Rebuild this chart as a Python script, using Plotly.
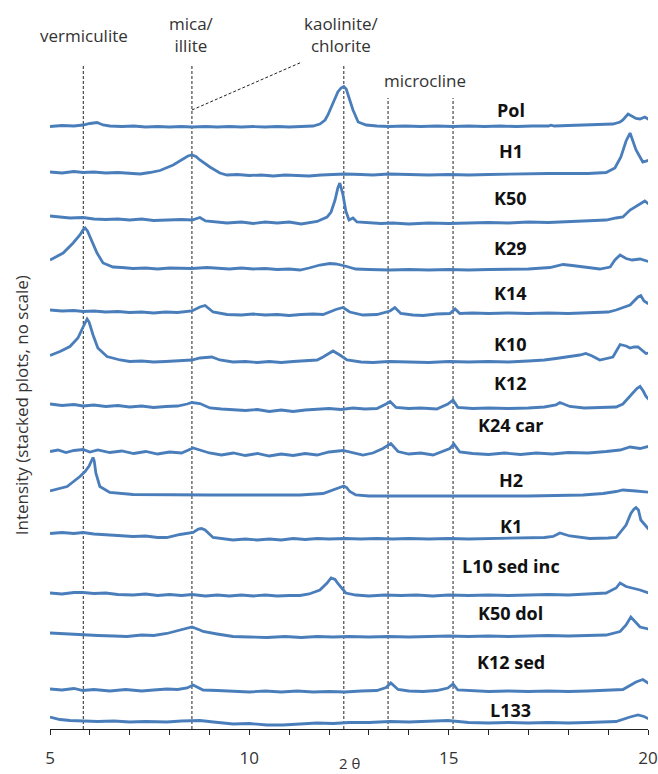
import plotly.graph_objects as go

# ---- data: 2-theta positions and stacked intensities (arbitrary units) ----
pol_x = [5.0, 5.3, 5.6, 5.83, 6.0, 6.18, 6.33, 6.5, 6.8, 7.1, 7.4, 7.7, 8.0, 8.3, 8.56, 8.9, 9.2, 9.5, 9.8, 10.1, 10.4, 10.7, 11.0, 11.3, 11.6, 11.77, 11.9, 11.97, 12.1, 12.22, 12.3, 12.37, 12.43, 12.52, 12.6, 12.73, 12.93, 13.2, 13.5, 13.9, 14.3, 14.7, 15.1, 15.5, 15.9, 16.3, 16.7, 17.1, 17.5, 17.57, 17.65, 18.0, 18.54, 18.8, 19.12, 19.3, 19.37, 19.5, 19.62, 19.7, 19.8, 19.92, 20.0, 20.12]
pol_y = [602.5, 603.5, 603, 604, 605.5, 606.5, 604, 603, 602.5, 603, 602, 602.5, 602, 602.5, 602, 602.5, 602, 602.5, 602, 602.5, 602, 602.5, 602, 602.5, 603, 605, 609, 614, 626, 637, 641, 642.5, 640, 628, 619, 607, 604, 603, 602.5, 603, 602.5, 603, 602.5, 603, 602.5, 603, 602.5, 603, 603, 603.8, 603, 603.5, 604, 604.5, 605, 607, 609, 615, 612, 610.5, 610, 612, 610, 608]

h1_x = [5.0, 5.3, 5.6, 5.83, 6.1, 6.4, 6.7, 7.0, 7.26, 7.5, 7.76, 8.09, 8.34, 8.46, 8.56, 8.66, 8.76, 9.01, 9.26, 9.44, 9.7, 10.0, 10.3, 10.6, 10.9, 11.2, 11.5, 11.8, 12.1, 12.4, 12.8, 13.1, 13.5, 14.0, 14.5, 15.0, 15.5, 16.0, 16.5, 17.0, 17.5, 18.0, 18.5, 18.95, 19.17, 19.32, 19.45, 19.55, 19.62, 19.7, 19.87, 20.0, 20.12]
h1_y = [557, 556, 557.5, 556.5, 557, 556, 556.5, 556, 555, 556.5, 558.5, 564, 570, 573, 574, 572.5, 569, 562, 556, 554, 554.5, 553.5, 554, 553, 554, 553.5, 553, 554, 554.5, 555, 554.5, 554, 555, 554.5, 554, 554.5, 554, 554.5, 555, 555, 555.5, 555.5, 555.5, 556.5, 561, 572, 588, 596, 588, 579, 567, 569, 570]

k50_x = [5.0, 5.2, 5.5, 5.83, 6.1, 6.4, 6.7, 7.0, 7.3, 7.6, 8.0, 8.3, 8.56, 8.76, 8.9, 9.1, 9.44, 9.8, 10.1, 10.4, 10.7, 11.0, 11.3, 11.7, 11.85, 11.95, 12.05, 12.15, 12.22, 12.27, 12.35, 12.42, 12.5, 12.6, 12.7, 12.85, 13.0, 13.3, 13.6, 14.0, 14.5, 15.0, 15.5, 16.0, 16.5, 17.0, 17.5, 18.0, 18.5, 18.95, 19.2, 19.37, 19.55, 19.75, 19.92, 20.05, 20.12]
k50_y = [513, 512, 511, 511.5, 510, 509.5, 510, 509, 510, 508.5, 509, 509.5, 509, 511.5, 508, 507, 506, 507, 505.5, 507, 506, 507, 505, 507.5, 510.5, 512, 517, 529, 541, 546, 534, 518, 509, 511, 507, 506.5, 506, 505.5, 506, 505, 506, 505.5, 506, 506.5, 506, 507, 506.5, 507.5, 508, 509, 511, 512, 519, 524, 528, 524, 522]

k29_x = [5.0, 5.33, 5.58, 5.75, 5.83, 5.88, 5.94, 6.0, 6.18, 6.33, 6.58, 6.8, 7.08, 7.4, 7.7, 8.0, 8.3, 8.56, 8.94, 9.2, 9.5, 9.8, 10.1, 10.4, 10.7, 11.0, 11.27, 11.5, 11.77, 12.02, 12.17, 12.4, 12.67, 13.0, 13.53, 14.0, 14.5, 15.0, 15.5, 16.0, 16.5, 17.0, 17.54, 17.87, 18.1, 18.44, 18.79, 19.05, 19.17, 19.3, 19.45, 19.6, 19.8, 20.05]
k29_y = [469, 476, 486, 494, 499, 501, 498, 492, 476, 466, 462, 461.5, 460.5, 461, 460, 461, 460.5, 460.5, 461.5, 460.5, 460, 461, 460, 460.5, 459.5, 460, 459, 461, 464, 465.5, 465, 463, 460, 459.5, 459, 459.5, 459, 459.5, 459, 459.5, 460, 460, 461.5, 464.5, 463.5, 462, 460, 462, 469, 474, 470.5, 469, 470, 467]

k14_x = [5.0, 5.3, 5.6, 5.83, 6.1, 6.4, 6.7, 7.0, 7.3, 7.6, 7.9, 8.2, 8.56, 8.76, 8.89, 9.09, 9.44, 9.8, 10.1, 10.4, 10.7, 11.0, 11.3, 11.6, 11.85, 12.17, 12.35, 12.52, 12.85, 13.2, 13.53, 13.65, 13.8, 14.1, 14.36, 14.7, 15.03, 15.16, 15.28, 15.6, 16.0, 16.5, 17.0, 17.5, 18.0, 18.5, 19.0, 19.2, 19.55, 19.75, 19.82, 19.9, 20.0, 20.1]
k14_y = [419, 418, 418.5, 417.5, 418, 417, 417.5, 416.5, 417, 416, 417, 416.5, 418, 422, 423.5, 417, 414.5, 414, 415, 414, 414.5, 413.5, 414.5, 415, 414.5, 419.5, 421.5, 417, 414, 414.5, 418, 421.5, 415.5, 414, 413.5, 415, 415.5, 420, 415.5, 416, 415.5, 416, 415.5, 416, 415.5, 416, 417, 419, 424, 432, 433.5, 428, 425.5, 424]

k10_x = [5.0, 5.25, 5.5, 5.7, 5.83, 5.89, 5.93, 5.98, 6.08, 6.2, 6.43, 6.76, 7.0, 7.3, 7.6, 7.9, 8.2, 8.56, 8.76, 9.06, 9.26, 9.59, 9.9, 10.2, 10.5, 10.8, 11.1, 11.4, 11.7, 11.85, 12.0, 12.1, 12.27, 12.45, 12.8, 13.1, 13.5, 14.0, 14.5, 15.0, 15.5, 16.0, 16.5, 17.0, 17.4, 17.69, 18.0, 18.29, 18.44, 18.6, 18.79, 19.12, 19.3, 19.45, 19.55, 19.65, 19.75, 19.95, 20.12]
k10_y = [373.5, 377.5, 382.5, 391, 402, 408, 410, 407, 394, 381, 372.5, 369, 367.5, 368, 367, 367.5, 368, 369, 371, 372, 369, 367, 367.5, 366.5, 367.5, 366.5, 367.5, 368, 369, 372, 376, 378, 374, 369, 367, 366.5, 367.5, 367, 366.5, 367.5, 367, 367.5, 367, 368, 369, 370.5, 372, 374, 375.5, 373, 369, 372, 384.5, 383, 381, 382, 382, 375.5, 377]

k12_x = [5.0, 5.3, 5.6, 5.83, 6.1, 6.4, 6.7, 7.0, 7.3, 7.6, 7.9, 8.2, 8.44, 8.56, 8.76, 9.01, 9.3, 9.59, 9.9, 10.2, 10.5, 10.8, 11.1, 11.4, 11.7, 12.0, 12.3, 12.6, 12.9, 13.2, 13.43, 13.53, 13.68, 14.0, 14.3, 14.7, 14.98, 15.11, 15.23, 15.6, 16.0, 16.5, 17.0, 17.4, 17.69, 17.79, 18.04, 18.4, 18.8, 19.2, 19.37, 19.62, 19.72, 19.8, 19.88, 19.95, 20.12]
k12_y = [325, 323.5, 324.5, 323, 324, 322.5, 323.5, 322, 323, 321.5, 322.5, 323, 325, 326.5, 325.5, 321, 320, 319.5, 318.5, 319.5, 317.5, 319, 317.5, 319, 320, 320.5, 319.5, 321, 320, 320.5, 325, 327.5, 321.5, 320.5, 321, 320, 325, 329, 321.5, 320.5, 321, 320.5, 321, 322, 324, 326.5, 322.5, 321, 321.5, 322, 325, 335.5, 340.5, 342.5, 338, 332.5, 325.5]

k24car_x = [5.0, 5.2, 5.4, 5.6, 5.83, 6.0, 6.2, 6.5, 6.8, 7.1, 7.4, 7.7, 8.0, 8.3, 8.59, 8.76, 9.0, 9.3, 9.6, 9.9, 10.2, 10.5, 10.8, 11.1, 11.4, 11.7, 12.0, 12.35, 12.6, 12.85, 13.1, 13.35, 13.55, 13.73, 14.0, 14.3, 14.61, 14.9, 15.03, 15.13, 15.28, 15.6, 16.0, 16.4, 16.8, 17.2, 17.6, 18.0, 18.5, 18.95, 19.3, 19.55, 19.8, 20.05, 20.12]
k24car_y = [277.5, 279, 276.5, 278.5, 279.5, 277, 279, 276.5, 278, 275.5, 277.5, 275, 277, 276, 281, 279, 276, 274, 276, 273.5, 275.5, 273, 275, 273.5, 275.5, 274, 277, 278.5, 276, 274, 276, 280.5, 285.5, 277.5, 275, 276, 274, 278, 280.5, 285, 277, 275.5, 274.5, 276, 274.5, 276, 275, 276.5, 276, 277.5, 279, 282, 280.5, 283, 282]

h2_x = [5.0, 5.43, 5.75, 5.88, 5.98, 6.05, 6.08, 6.11, 6.15, 6.25, 6.5, 7.08, 8.0, 9.0, 10.0, 11.27, 11.85, 12.1, 12.3, 12.37, 12.44, 12.52, 12.67, 13.0, 14.0, 15.0, 16.0, 17.0, 18.37, 18.87, 19.2, 19.37, 19.7, 20.12]
h2_y = [238, 242.5, 252.5, 257.5, 263, 269, 271.5, 268, 256, 242.5, 236.5, 234.5, 234, 234, 234, 234, 235.5, 239, 242.5, 243, 241.5, 237.5, 234, 233, 233, 233, 233, 233, 234, 235.5, 237.5, 239, 238, 236.5]

k1_x = [5.0, 5.3, 5.6, 5.83, 6.1, 6.4, 6.7, 7.08, 7.4, 7.7, 7.93, 8.26, 8.59, 8.72, 8.8, 8.89, 9.09, 9.59, 9.9, 10.2, 10.5, 10.8, 11.1, 11.4, 11.7, 12.0, 12.4, 12.8, 13.2, 13.6, 14.0, 14.5, 15.0, 15.5, 16.0, 16.5, 17.0, 17.4, 17.62, 17.79, 18.04, 18.3, 18.54, 19.0, 19.2, 19.45, 19.57, 19.65, 19.7, 19.76, 19.82, 20.0, 20.12]
k1_y = [195.5, 196.5, 195.5, 196.5, 195, 194.5, 193.5, 192.5, 193, 191.5, 191.5, 194.5, 196.5, 200, 200.5, 199, 191.5, 189, 190, 189, 190, 189, 190.5, 189.5, 190.5, 190, 190.5, 190, 190.5, 190, 190.5, 190, 190.5, 190, 190.5, 190.5, 191, 191.5, 192.5, 196, 193, 191.5, 190.5, 191, 191.5, 204, 215.5, 220, 221.5, 219, 209, 200.5, 203]

l10_x = [5.0, 5.3, 5.6, 5.83, 6.1, 6.4, 6.7, 7.08, 7.4, 7.7, 8.0, 8.3, 8.56, 8.9, 9.2, 9.5, 9.8, 10.1, 10.4, 10.7, 11.0, 11.27, 11.5, 11.77, 11.95, 12.05, 12.15, 12.22, 12.42, 12.67, 13.0, 13.4, 13.8, 14.2, 14.6, 15.0, 15.5, 16.0, 16.5, 17.0, 17.5, 18.0, 18.5, 18.95, 19.2, 19.3, 19.45, 19.8, 20.05, 20.12]
l10_y = [136, 135, 136.5, 136.5, 135.5, 136, 134.5, 134, 135, 133.5, 134.5, 133.5, 134.5, 133, 134, 133, 134, 133, 134, 133, 133.5, 133.5, 135, 139, 146, 151, 149.5, 145.5, 136, 134, 133, 134, 133.5, 134, 133, 134, 133.5, 134, 133.5, 134, 134.5, 134, 135, 136, 141, 146, 142.5, 139, 135.5, 136]

k50dol_x = [5.0, 5.4, 5.83, 6.2, 6.6, 6.93, 7.3, 7.6, 7.93, 8.26, 8.56, 8.76, 8.84, 9.19, 9.59, 10.0, 10.44, 10.9, 11.3, 11.7, 12.1, 12.5, 13.0, 13.5, 14.0, 14.5, 15.0, 15.5, 16.0, 16.5, 17.0, 17.5, 18.0, 18.5, 18.95, 19.3, 19.45, 19.57, 19.7, 19.8, 20.0, 20.12]
k50dol_y = [96, 95, 94, 93.5, 93, 92.5, 94, 93.5, 95.5, 99, 102, 99, 97.5, 95, 92.5, 92, 91.5, 92.5, 91.5, 92.5, 92, 92.5, 92, 92.5, 92, 92.5, 93, 92.5, 93, 92.5, 93, 93.5, 93, 93.5, 94, 97.5, 104, 112, 106, 102, 100, 99]

k12sed_x = [5.0, 5.3, 5.6, 5.83, 6.1, 6.5, 6.9, 7.3, 7.6, 7.93, 8.2, 8.44, 8.59, 8.84, 9.2, 9.6, 10.0, 10.4, 10.8, 11.2, 11.6, 12.0, 12.4, 12.8, 13.2, 13.43, 13.55, 13.73, 14.0, 14.36, 14.7, 14.98, 15.11, 15.23, 15.6, 16.0, 16.5, 17.0, 17.5, 18.0, 18.5, 19.0, 19.37, 19.7, 19.87, 20.0, 20.12]
k12sed_y = [40, 39, 40.5, 38.5, 39.5, 38, 39.5, 38, 39, 40, 39.5, 41, 44, 39, 38.5, 37.5, 37, 38, 37, 38, 37, 37.5, 37, 38, 38.5, 41.5, 46, 39.5, 38, 37.5, 38.5, 41, 45, 39, 38, 37.5, 38, 37.5, 38, 37.5, 38, 38.5, 39.5, 47, 49.5, 46, 44]

l133_x = [5.0, 5.25, 5.5, 5.83, 6.2, 6.6, 7.0, 7.4, 7.93, 8.3, 8.76, 9.1, 9.59, 10.0, 10.44, 10.84, 11.3, 11.7, 12.1, 12.5, 13.0, 13.53, 14.0, 14.5, 14.98, 15.5, 16.0, 16.5, 17.0, 17.5, 18.0, 18.5, 19.2, 19.55, 19.75, 19.9, 20.0, 20.12]
l133_y = [12, 9.5, 8.5, 8, 7.5, 8, 7, 7.5, 7, 8, 8.5, 7, 5, 5.5, 4, 4, 5, 6, 5.5, 6.5, 6.5, 7.5, 7, 7.5, 8.5, 6.5, 6, 6.5, 6, 6.5, 6, 6.5, 7.5, 12, 14, 12.5, 10.5, 10]

samples = ["Pol", "H1", "K50", "K29", "K14", "K10", "K12", "K24 car", "H2", "K1",
           "L10 sed inc", "K50 dol", "K12 sed", "L133"]
series_x = [pol_x, h1_x, k50_x, k29_x, k14_x, k10_x, k12_x, k24car_x, h2_x, k1_x,
            l10_x, k50dol_x, k12sed_x, l133_x]
series_y = [pol_y, h1_y, k50_y, k29_y, k14_y, k10_y, k12_y, k24car_y, h2_y, k1_y,
            l10_y, k50dol_y, k12sed_y, l133_y]
label_y = [619, 578, 531, 481, 436, 385, 346, 304, 249, 203, 163, 116, 67, 19]

# reference peak positions (2 theta)
mineral_pos = [5.835, 8.56, 12.37, 13.48, 15.11]
mineral_top = [664, 664, 664, 631, 631]

x_ticks = [5, 10, 15, 20]

LINE = "#4A7EBB"
FONT = "Open Sans"

fig = go.Figure()
for name, xs, ys in zip(samples, series_x, series_y):
    fig.add_trace(go.Scatter(x=xs, y=ys, mode="lines", name=name,
                             line=dict(color=LINE, width=2.8), showlegend=False))

shapes = []
for xp, yt in zip(mineral_pos, mineral_top):
    shapes.append(dict(type="line", xref="x", yref="y", x0=xp, x1=xp, y0=0, y1=yt,
                       line=dict(color="#222222", width=1, dash="3px,2px"), layer="below"))
shapes.append(dict(type="line", xref="x", yref="y", x0=8.56, y0=619, x1=11.32, y1=667,
                   line=dict(color="#222222", width=1, dash="3px,2px"), layer="below"))

annotations = []
for name, ly in zip(samples, label_y):
    annotations.append(dict(x=16.56, y=ly, xref="x", yref="y", text="<b>%s</b>" % name,
                            showarrow=False, xanchor="center", yanchor="middle",
                            font=dict(family=FONT, size=18, color="#111111")))

min_font = dict(family=FONT, size=17, color="#333333")
annotations += [
    dict(x=5.85, y=694, xref="x", yref="y", text="vermiculite", showarrow=False, font=min_font,
         xanchor="center", yanchor="middle"),
    dict(x=8.56, y=695, xref="x", yref="y", text="mica/<br>illite", showarrow=False, font=min_font,
         xanchor="center", yanchor="middle"),
    dict(x=12.32, y=695, xref="x", yref="y", text="kaolinite/<br>chlorite", showarrow=False, font=min_font,
         xanchor="center", yanchor="middle"),
    dict(x=14.41, y=649, xref="x", yref="y", text="microcline", showarrow=False, font=min_font,
         xanchor="center", yanchor="middle"),
    dict(x=-0.048, y=324, xref="paper", yref="y", text="Intensity (stacked plots, no scale)",
         textangle=-90, showarrow=False, xanchor="center", yanchor="middle",
         font=dict(family=FONT, size=17, color="#333333")),
    dict(x=0.5, y=-0.047, xref="paper", yref="paper", text="2 θ", showarrow=False,
         xanchor="center", yanchor="middle",
         font=dict(family=FONT, size=15, color="#333333")),
]

fig.update_layout(
    width=658, height=774,
    margin=dict(l=50, r=10, t=0, b=45),
    paper_bgcolor="white", plot_bgcolor="white",
    shapes=shapes, annotations=annotations,
    xaxis=dict(range=[5, 20], tickvals=x_ticks, ticks="outside", ticklen=5, tickwidth=1,
               tickcolor="#222222", showline=True, linecolor="#222222", linewidth=1.2,
               showgrid=False, zeroline=False, ticklabelstandoff=8,
               minor=dict(dtick=1, ticks="outside", ticklen=5, tickcolor="#222222", showgrid=False),
               tickfont=dict(family=FONT, size=17, color="#333333")),
    yaxis=dict(range=[0, 729], visible=False, showgrid=False, zeroline=False),
)

fig.write_html("out.html")
